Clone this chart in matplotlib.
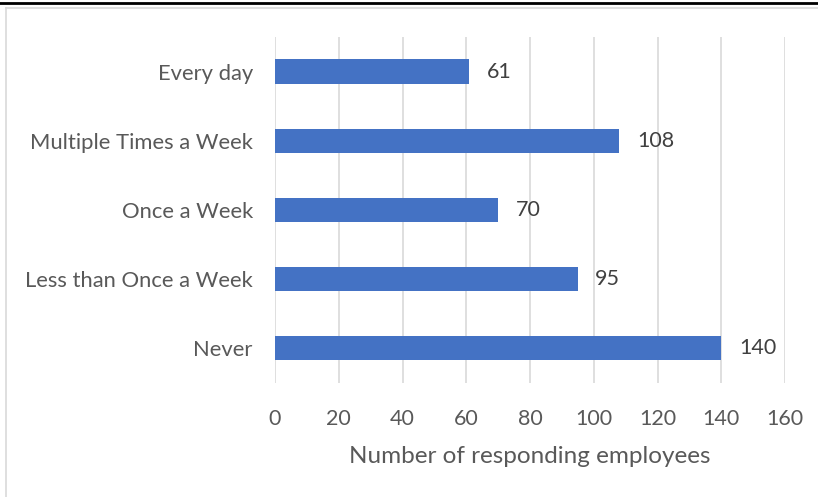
import matplotlib.pyplot as plt
from matplotlib.lines import Line2D

# data
categories = ['Every day', 'Multiple Times a Week', 'Once a Week',
              'Less than Once a Week', 'Never']
counts = [61, 108, 70, 95, 140]
xticks = [0, 20, 40, 60, 80, 100, 120, 140, 160]

plt.rcParams['font.family'] = ['Lato', 'DejaVu Sans']

fig = plt.figure(figsize=(8.18, 4.97), dpi=100)
ax = fig.add_axes([0.3362, 0.2294, 0.6235, 0.6962])

ypos = list(range(len(categories)))
ax.barh(ypos, counts, height=0.35, color='#4472C4', zorder=3)
ax.set_ylim(len(categories) - 0.5, -0.5)
ax.set_xlim(0, 160)

for y, v in zip(ypos, counts):
    ax.text(v + 5.5, y, str(v), va='center', ha='left', fontsize=15.5, color='#404040')

ax.set_yticks(ypos)
ax.set_yticklabels(categories, fontsize=15.8, color='#595959')
ax.set_xticks(xticks)
ax.set_xticklabels([str(t) for t in xticks], fontsize=15.5, color='#595959')
ax.tick_params(axis='y', length=0, pad=16)
ax.tick_params(axis='x', length=0, pad=19)
ax.grid(axis='x', color='#D9D9D9', linewidth=1.2, zorder=0)
for s in ax.spines.values():
    s.set_visible(False)
ax.set_xlabel('Number of responding employees', fontsize=17.5, color='#595959', labelpad=12)

# chart frame and cut-off rule on top
fig.add_artist(Line2D([6/818, 6/818], [0, 1 - 8/497], color='#D9D9D9', lw=1.2))
fig.add_artist(Line2D([6/818, 1], [1 - 8/497, 1 - 8/497], color='#D9D9D9', lw=1.2))
fig.add_artist(Line2D([0, 1], [1 - 3/497, 1 - 3/497], color='black', lw=2))

plt.savefig('out.png', dpi=100)
